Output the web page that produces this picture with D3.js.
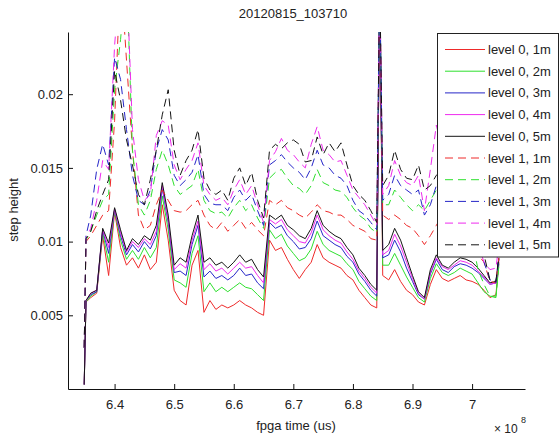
<!DOCTYPE html>
<html>
<head>
<meta charset="utf-8">
<script src="https://cdn.jsdelivr.net/npm/d3@7"></script>
<style>
  body { margin: 0; background: #fff; }
  svg text { font-family: "Liberation Sans", Arial, sans-serif; fill: #222; }
</style>
</head>
<body>
<svg width="560" height="435"></svg>
<script>
// fpga time, in units of 1e8 us
const fpgaTime = [6.349, 6.352, 6.36, 6.37, 6.38, 6.39, 6.40, 6.41, 6.42, 6.43, 6.44, 6.45, 6.46, 6.47, 6.48, 6.49,
  6.50, 6.51, 6.52, 6.53, 6.54, 6.55, 6.56, 6.57, 6.58, 6.59, 6.60, 6.61, 6.62, 6.63, 6.64, 6.65, 6.66, 6.67, 6.68,
  6.69, 6.70, 6.71, 6.72, 6.73, 6.74, 6.75, 6.76, 6.77, 6.78, 6.79, 6.80, 6.81, 6.82, 6.83, 6.84, 6.845, 6.85, 6.86,
  6.87, 6.88, 6.89, 6.90, 6.91, 6.92, 6.93, 6.94, 6.95, 6.96, 6.97, 6.98, 6.99, 7.00, 7.01, 7.02, 7.03, 7.04, 7.045];

const lvl0_1m = [0.0003, 0.0059, 0.0062, 0.0065, 0.0104, 0.0077, 0.0120, 0.0096, 0.0084, 0.0089, 0.0082, 0.0091, 0.0081, 0.0086, 0.0125, 0.0101,
  0.0067, 0.0060, 0.0057, 0.0084, 0.0094, 0.0052, 0.0060, 0.0054, 0.0057, 0.0055, 0.0057, 0.0060, 0.0057, 0.0055, 0.0052, 0.0050, 0.0101, 0.0094, 0.0096,
  0.0088, 0.0081, 0.0075, 0.0081, 0.0086, 0.0098, 0.0089, 0.0086, 0.0084, 0.0082, 0.0077, 0.0074, 0.0067, 0.0062, 0.0057, 0.0055, 0.0278, 0.0077, 0.0074,
  0.0081, 0.0073, 0.0067, 0.0064, 0.0059, 0.0057, 0.0071, 0.0081, 0.0075, 0.0073, 0.0075, 0.0077, 0.0074, 0.0073, 0.0071, 0.0067, 0.0062, 0.0064, 0.0086];
const lvl0_2m = [0.0003, 0.0059, 0.0063, 0.0066, 0.0106, 0.0086, 0.0121, 0.0101, 0.0088, 0.0094, 0.0088, 0.0096, 0.0089, 0.0096, 0.0131, 0.0108,
  0.0074, 0.0072, 0.0069, 0.0092, 0.0104, 0.0066, 0.0072, 0.0066, 0.0069, 0.0066, 0.0069, 0.0072, 0.0069, 0.0068, 0.0064, 0.0060, 0.0108, 0.0102, 0.0105,
  0.0097, 0.0092, 0.0087, 0.0089, 0.0095, 0.0107, 0.0098, 0.0094, 0.0092, 0.0090, 0.0085, 0.0081, 0.0073, 0.0068, 0.0063, 0.0060, 0.0278, 0.0084, 0.0084,
  0.0092, 0.0084, 0.0076, 0.0069, 0.0062, 0.0059, 0.0075, 0.0085, 0.0079, 0.0077, 0.0079, 0.0082, 0.0080, 0.0078, 0.0072, 0.0066, 0.0063, 0.0062, 0.0085];
const lvl0_3m = [0.0003, 0.0060, 0.0064, 0.0066, 0.0108, 0.0092, 0.0122, 0.0104, 0.0091, 0.0098, 0.0093, 0.0100, 0.0095, 0.0104, 0.0136, 0.0113,
  0.0079, 0.0080, 0.0077, 0.0098, 0.0111, 0.0076, 0.0080, 0.0075, 0.0077, 0.0074, 0.0077, 0.0082, 0.0077, 0.0078, 0.0072, 0.0068, 0.0113, 0.0109, 0.0111,
  0.0104, 0.0100, 0.0095, 0.0096, 0.0102, 0.0114, 0.0104, 0.0101, 0.0098, 0.0096, 0.0090, 0.0086, 0.0078, 0.0073, 0.0067, 0.0063, 0.0278, 0.0089, 0.0091,
  0.0101, 0.0093, 0.0082, 0.0073, 0.0064, 0.0061, 0.0078, 0.0088, 0.0081, 0.0079, 0.0083, 0.0085, 0.0084, 0.0082, 0.0079, 0.0075, 0.0071, 0.0072, 0.0088];
const lvl0_4m = [0.0003, 0.0060, 0.0065, 0.0067, 0.0108, 0.0096, 0.0122, 0.0106, 0.0093, 0.0100, 0.0096, 0.0102, 0.0098, 0.0107, 0.0138, 0.0115,
  0.0081, 0.0085, 0.0082, 0.0101, 0.0114, 0.0081, 0.0085, 0.0080, 0.0082, 0.0078, 0.0082, 0.0086, 0.0082, 0.0083, 0.0077, 0.0072, 0.0115, 0.0112, 0.0115,
  0.0108, 0.0104, 0.0100, 0.0099, 0.0106, 0.0118, 0.0108, 0.0104, 0.0101, 0.0099, 0.0093, 0.0088, 0.0080, 0.0075, 0.0069, 0.0065, 0.0278, 0.0091, 0.0094,
  0.0105, 0.0097, 0.0086, 0.0075, 0.0065, 0.0061, 0.0079, 0.0089, 0.0083, 0.0081, 0.0084, 0.0087, 0.0086, 0.0084, 0.0080, 0.0076, 0.0071, 0.0072, 0.0088];
const lvl0_5m = [0.0003, 0.0060, 0.0065, 0.0067, 0.0109, 0.0099, 0.0123, 0.0108, 0.0094, 0.0102, 0.0098, 0.0104, 0.0101, 0.0111, 0.0140, 0.0118,
  0.0084, 0.0089, 0.0086, 0.0104, 0.0118, 0.0086, 0.0089, 0.0084, 0.0086, 0.0082, 0.0086, 0.0091, 0.0086, 0.0088, 0.0081, 0.0076, 0.0118, 0.0115, 0.0118,
  0.0111, 0.0108, 0.0104, 0.0102, 0.0109, 0.0121, 0.0111, 0.0107, 0.0104, 0.0102, 0.0096, 0.0091, 0.0082, 0.0077, 0.0071, 0.0067, 0.0278, 0.0094, 0.0098,
  0.0109, 0.0101, 0.0089, 0.0077, 0.0066, 0.0062, 0.0081, 0.0091, 0.0084, 0.0082, 0.0086, 0.0089, 0.0088, 0.0086, 0.0082, 0.0077, 0.0072, 0.0073, 0.0089];

const lvl1_1m = [0.0028, 0.0100, 0.0104, 0.0111, 0.0118, 0.0121, 0.0182, 0.0284, 0.0223, 0.0162, 0.0118, 0.0108, 0.0111, 0.0125, 0.0135, 0.0128,
  0.0121, 0.0120, 0.0121, 0.0125, 0.0128, 0.0118, 0.0111, 0.0108, 0.0113, 0.0107, 0.0111, 0.0115, 0.0109, 0.0113, 0.0108, 0.0104, 0.0128, 0.0125, 0.0128,
  0.0123, 0.0121, 0.0118, 0.0116, 0.0120, 0.0125, 0.0121, 0.0120, 0.0118, 0.0118, 0.0115, 0.0111, 0.0109, 0.0107, 0.0102, 0.0101, 0.0278, 0.0118, 0.0115,
  0.0118, 0.0115, 0.0111, 0.0109, 0.0104, 0.0098, 0.0104, 0.0111, 0.0118, 0.0115, 0.0111, 0.0113, 0.0109, 0.0098, 0.0091, 0.0086, 0.0073, 0.0072, 0.0089];
const lvl1_2m = [0.0028, 0.0101, 0.0107, 0.0118, 0.0128, 0.0132, 0.0203, 0.0237, 0.0284, 0.0162, 0.0125, 0.0118, 0.0128, 0.0149, 0.0162, 0.0152,
  0.0138, 0.0132, 0.0135, 0.0138, 0.0149, 0.0128, 0.0121, 0.0119, 0.0120, 0.0116, 0.0123, 0.0128, 0.0121, 0.0125, 0.0116, 0.0109, 0.0143, 0.0147, 0.0149,
  0.0143, 0.0138, 0.0136, 0.0132, 0.0138, 0.0149, 0.0140, 0.0138, 0.0135, 0.0134, 0.0130, 0.0123, 0.0118, 0.0115, 0.0109, 0.0106, 0.0278, 0.0125, 0.0125,
  0.0135, 0.0130, 0.0125, 0.0121, 0.0125, 0.0121, 0.0128, 0.0135, 0.0135, 0.0132, 0.0128, 0.0130, 0.0125, 0.0101, 0.0081, 0.0071, 0.0063, 0.0063, 0.0084];
const lvl1_3m = [0.0028, 0.0104, 0.0118, 0.0149, 0.0166, 0.0152, 0.0225, 0.0210, 0.0176, 0.0145, 0.0128, 0.0125, 0.0135, 0.0162, 0.0176, 0.0169,
  0.0145, 0.0138, 0.0142, 0.0147, 0.0159, 0.0132, 0.0126, 0.0125, 0.0125, 0.0121, 0.0130, 0.0135, 0.0128, 0.0132, 0.0121, 0.0111, 0.0152, 0.0155, 0.0159,
  0.0154, 0.0150, 0.0147, 0.0142, 0.0150, 0.0162, 0.0152, 0.0150, 0.0145, 0.0143, 0.0138, 0.0128, 0.0121, 0.0118, 0.0113, 0.0108, 0.0278, 0.0128, 0.0132,
  0.0145, 0.0138, 0.0135, 0.0132, 0.0135, 0.0118, 0.0125, 0.0138, 0.0142, 0.0138, 0.0135, 0.0136, 0.0132, 0.0108, 0.0094, 0.0086, 0.0074, 0.0072, 0.0089];
const lvl1_4m = [0.0028, 0.0102, 0.0109, 0.0128, 0.0155, 0.0149, 0.0233, 0.0284, 0.0284, 0.0176, 0.0142, 0.0128, 0.0132, 0.0172, 0.0182, 0.0179,
  0.0152, 0.0142, 0.0149, 0.0155, 0.0167, 0.0138, 0.0132, 0.0128, 0.0130, 0.0125, 0.0135, 0.0142, 0.0132, 0.0138, 0.0125, 0.0113, 0.0155, 0.0161, 0.0170,
  0.0162, 0.0159, 0.0154, 0.0150, 0.0166, 0.0178, 0.0162, 0.0159, 0.0154, 0.0155, 0.0145, 0.0135, 0.0130, 0.0125, 0.0118, 0.0111, 0.0278, 0.0132, 0.0138,
  0.0155, 0.0145, 0.0140, 0.0138, 0.0145, 0.0121, 0.0149, 0.0179, 0.0162, 0.0152, 0.0145, 0.0143, 0.0138, 0.0115, 0.0098, 0.0086, 0.0081, 0.0082, 0.0098];
const lvl1_5m = [0.0028, 0.0102, 0.0107, 0.0121, 0.0132, 0.0142, 0.0216, 0.0196, 0.0169, 0.0152, 0.0132, 0.0125, 0.0142, 0.0162, 0.0186, 0.0203,
  0.0162, 0.0145, 0.0155, 0.0162, 0.0176, 0.0143, 0.0135, 0.0132, 0.0135, 0.0128, 0.0143, 0.0150, 0.0138, 0.0147, 0.0128, 0.0116, 0.0162, 0.0166, 0.0163,
  0.0167, 0.0169, 0.0166, 0.0154, 0.0155, 0.0171, 0.0159, 0.0167, 0.0161, 0.0167, 0.0152, 0.0138, 0.0132, 0.0128, 0.0121, 0.0113, 0.0278, 0.0138, 0.0145,
  0.0162, 0.0149, 0.0143, 0.0142, 0.0152, 0.0135, 0.0138, 0.0145, 0.0149, 0.0145, 0.0142, 0.0147, 0.0142, 0.0118, 0.0101, 0.0091, 0.0074, 0.0073, 0.0091];

const seriesNames = ["level 0, 1m", "level 0, 2m", "level 0, 3m", "level 0, 4m", "level 0, 5m",
  "level 1, 1m", "level 1, 2m", "level 1, 3m", "level 1, 4m", "level 1, 5m"];
const seriesData = [lvl0_1m, lvl0_2m, lvl0_3m, lvl0_4m, lvl0_5m, lvl1_1m, lvl1_2m, lvl1_3m, lvl1_4m, lvl1_5m];
const xTicks = [6.4, 6.5, 6.6, 6.7, 6.8, 6.9, 7];
const yTicks = [0.005, 0.01, 0.015, 0.02];
const titleText = "20120815_103710";

const colors = ["#ee2a2a", "#2ee02e", "#2626c8", "#ee2aee", "#141414"];
const plotLeft = 68, plotRight = 525, plotTop = 32, plotBottom = 389;

const svg = d3.select("svg");

const x = d3.scaleLinear().domain([6.3218, 7.0888]).range([plotLeft, plotRight]);
const y = d3.scaleLinear().domain([0, 0.02422]).range([plotBottom, plotTop]);

svg.append("defs").append("clipPath").attr("id", "plotclip")
  .append("rect").attr("x", plotLeft).attr("y", plotTop)
  .attr("width", plotRight - plotLeft).attr("height", plotBottom - plotTop);

const line = d3.line().x((d, i) => x(fpgaTime[i])).y(d => y(d));

const g = svg.append("g").attr("clip-path", "url(#plotclip)");
seriesData.forEach((s, k) => {
  g.append("path")
    .datum(s)
    .attr("d", line)
    .attr("fill", "none")
    .attr("stroke", colors[k % 5])
    .attr("stroke-width", 1)
    .attr("stroke-dasharray", k >= 5 ? "8,5" : null);
});

// axes, ticks inward like matlab
const xAxis = svg.append("g").attr("transform", `translate(0,${plotBottom})`)
  .call(d3.axisBottom(x).tickValues(xTicks).tickFormat(d3.format("")).tickSizeInner(-5).tickSizeOuter(0).tickPadding(11));
const yAxis = svg.append("g").attr("transform", `translate(${plotLeft},0)`)
  .call(d3.axisLeft(y).tickValues(yTicks).tickFormat(d => String(d)).tickSizeInner(-5).tickSizeOuter(0).tickPadding(5));
[xAxis, yAxis].forEach(a => {
  a.selectAll("text").style("font-size", "13px").attr("fill", "#222");
  a.selectAll("line, path").attr("stroke", "#111");
});

svg.append("text").attr("x", 293).attr("y", 18).attr("text-anchor", "middle")
  .style("font-size", "13px").text(titleText);
svg.append("text").attr("x", 296).attr("y", 430).attr("text-anchor", "middle")
  .style("font-size", "13px").text("fpga time (us)");
svg.append("text").attr("transform", "translate(18,210) rotate(-90)").attr("text-anchor", "middle")
  .style("font-size", "13px").text("step height");
svg.append("text").attr("x", 494).attr("y", 433).style("font-size", "12px").text("× 10");
svg.append("text").attr("x", 521).attr("y", 423).style("font-size", "9px").text("8");

// legend
const legend = svg.append("g");
legend.append("rect").attr("x", 437.5).attr("y", 33.5).attr("width", 121).attr("height", 223.5)
  .attr("fill", "#fff").attr("stroke", "#222");
seriesNames.forEach((name, k) => {
  const ly = 49.5 + k * 21.7;
  legend.append("line").attr("x1", 445).attr("x2", 485).attr("y1", ly).attr("y2", ly)
    .attr("stroke", colors[k % 5]).attr("stroke-width", 1)
    .attr("stroke-dasharray", k >= 5 ? "8,5" : null);
  legend.append("text").attr("x", 488).attr("y", ly + 4.5).style("font-size", "13px").text(name);
});
</script>
</body>
</html>
